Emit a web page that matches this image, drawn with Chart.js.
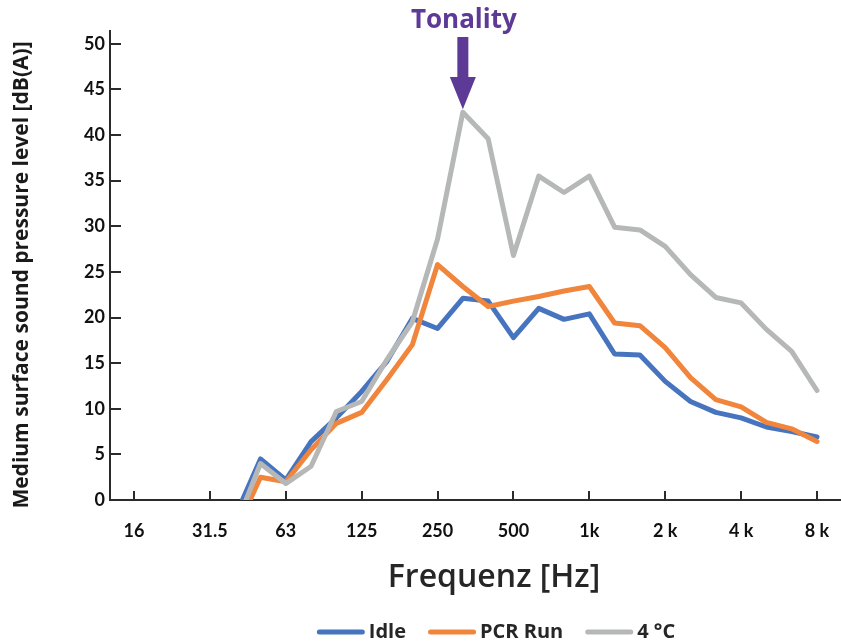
<!DOCTYPE html>
<html>
<head>
<meta charset="utf-8">
<style>
html,body{margin:0;padding:0;background:#ffffff;}
#wrap{width:841px;height:644px;position:relative;}
</style>
<script src="https://cdn.jsdelivr.net/npm/chart.js@4/dist/chart.umd.min.js"></script>
</head>
<body>
<div id="wrap"><canvas id="c" width="841" height="644"></canvas></div>
<script>
// ---- data (third-octave bands) ----
const bands = ['16','20','25','31.5','40','50','63','80','100','125','160','200','250','315','400','500','630','800','1k','1.25k','1.6k','2k','2.5k','3.15k','4k','5k','6.3k','8k'];
const tickBands = ['16','31.5','63','125','250','500','1k','2k','4k','8k'];
const tickLabels = ['16','31.5','63','125','250','500','1k','2 k','4 k','8 k'];
const idle   = [null,null,null,null,-1.8,4.5,2.2,6.4,9.0,11.9,15.2,19.9,18.8,22.1,21.8,17.8,21.0,19.8,20.4,16.0,15.9,13.0,10.8,9.6,9.0,8.0,7.5,6.9];
const pcrRun = [null,null,null,null,-3.6,2.5,2.0,5.5,8.4,9.6,13.2,17.0,25.8,23.4,21.2,21.8,22.3,22.9,23.4,19.4,19.1,16.7,13.4,11.0,10.2,8.5,7.8,6.4];
const cold   = [null,null,null,null,-3.0,4.0,1.8,3.7,9.7,10.8,15.4,19.5,28.6,42.5,39.6,26.8,35.5,33.7,35.5,29.9,29.6,27.8,24.7,22.2,21.6,18.7,16.3,12.0];
const seriesNames = ['Idle','PCR Run','4 °C'];
const seriesColors = ['#4674BE','#F0853B','#B6B8B8'];
const annotationText = 'Tonality';
const annotationBand = '315';
const xTitle = 'Frequenz [Hz]';
const yTitle = 'Medium surface sound pressure level [dB(A)]';

const toPts = arr => arr.map((v, i) => ({x: i, y: v}));
const seriesData = [idle, pcrRun, cold];

const deco = {
  id: 'deco',
  beforeDatasetsDraw(chart) {
    const {ctx, chartArea: a, scales: {x, y}} = chart;
    ctx.save();
    ctx.strokeStyle = '#2b2b2b';
    ctx.lineWidth = 2;
    y.ticks.forEach(t => {
      const py = Math.round(y.getPixelForValue(t.value));
      ctx.beginPath(); ctx.moveTo(a.left, py); ctx.lineTo(a.left + 11, py); ctx.stroke();
    });
    x.ticks.forEach(t => {
      const px = Math.round(x.getPixelForValue(t.value));
      ctx.beginPath(); ctx.moveTo(px, a.bottom); ctx.lineTo(px, a.bottom - 9); ctx.stroke();
    });
    ctx.restore();
  },
  afterDraw(chart) {
    const {ctx, chartArea: a, scales: {x, y}} = chart;
    ctx.save();
    // axis titles
    ctx.fillStyle = '#262626';
    ctx.textAlign = 'center';
    ctx.textBaseline = 'middle';
    ctx.font = '600 32px "Open Sans"';
    ctx.fillText(xTitle, 494, 578);
    ctx.save();
    ctx.translate(22, 275);
    ctx.rotate(-Math.PI / 2);
    ctx.font = '700 21px "Open Sans"';
    ctx.fillStyle = '#1a1a1a';
    ctx.fillText(yTitle, 0, 0);
    ctx.restore();

    // legend
    ctx.font = '700 20px "Open Sans"';
    const markerW = 48, gapT = 4, itemGap = 22, ly = 632;
    const widths = seriesNames.map(n => markerW + gapT + ctx.measureText(n).width);
    const total = widths.reduce((s, w) => s + w, 0) + itemGap * (seriesNames.length - 1);
    let lx = 496 - total / 2;
    ctx.textAlign = 'left';
    seriesNames.forEach((n, i) => {
      ctx.strokeStyle = seriesColors[i];
      ctx.lineWidth = 5;
      ctx.lineCap = 'round';
      ctx.beginPath(); ctx.moveTo(lx + 2.5, ly); ctx.lineTo(lx + markerW - 2.5, ly); ctx.stroke();
      ctx.fillStyle = '#262626';
      ctx.fillText(n, lx + markerW + gapT, ly);
      lx += widths[i] + itemGap;
    });

    // tonality annotation
    const bi = bands.indexOf(annotationBand);
    const tx = x.getPixelForValue(bi);
    const ty = y.getPixelForValue(cold[bi]) - 3;
    const purple = '#5C3A96';
    ctx.fillStyle = purple;
    ctx.textAlign = 'center';
    ctx.textBaseline = 'alphabetic';
    ctx.font = '700 26px "Open Sans"';
    ctx.fillText(annotationText, tx + 1, 28);
    ctx.fillRect(tx - 5.5, 37, 11, 42);
    ctx.beginPath();
    ctx.moveTo(tx - 13, 77);
    ctx.lineTo(tx + 13, 77);
    ctx.lineTo(tx, ty);
    ctx.closePath();
    ctx.fill();
    ctx.restore();
  }
};

const chart = new Chart(document.getElementById('c'), {
  type: 'line',
  data: {
    datasets: seriesNames.map((n, i) => ({
      label: n,
      data: toPts(seriesData[i]),
      borderColor: seriesColors[i],
      backgroundColor: seriesColors[i],
      borderWidth: 5,
      pointRadius: 0,
      tension: 0,
      borderJoinStyle: 'round',
      borderCapStyle: 'round',
      spanGaps: false,
      order: 2 - i,
      clip: {left: 5, top: 5, right: 5, bottom: 0}
    }))
  },
  options: {
    responsive: false,
    devicePixelRatio: 1,
    animation: false,
    layout: {padding: {top: 31, right: 1, bottom: 0, left: 0}},
    plugins: {legend: {display: false}, tooltip: {enabled: false}},
    scales: {
      x: {
        type: 'linear',
        min: -0.949,
        max: 27.91,
        grid: {display: false, drawTicks: false},
        border: {display: true, color: '#2b2b2b', width: 2},
        afterBuildTicks: s => { s.ticks = tickBands.map(b => ({value: bands.indexOf(b)})); },
        afterFit: s => { s.height = 144; s.paddingLeft = 0; s.paddingRight = 0; },
        ticks: {
          autoSkip: false,
          maxRotation: 0,
          padding: 20,
          color: '#111',
          font: {family: 'Lato', weight: '700', size: 18},
          callback: v => tickLabels[tickBands.indexOf(bands[v])]
        }
      },
      y: {
        min: 0,
        max: 51.4,
        grid: {display: false, drawTicks: false},
        border: {display: true, color: '#2b2b2b', width: 2},
        afterFit: s => { s.width = 110; s.paddingTop = 0; s.paddingBottom = 0; },
        ticks: {
          stepSize: 5,
          includeBounds: false,
          padding: 5,
          color: '#111',
          font: {family: 'Lato', weight: '700', size: 18}
        }
      }
    }
  },
  plugins: [deco]
});
</script>
</body>
</html>
